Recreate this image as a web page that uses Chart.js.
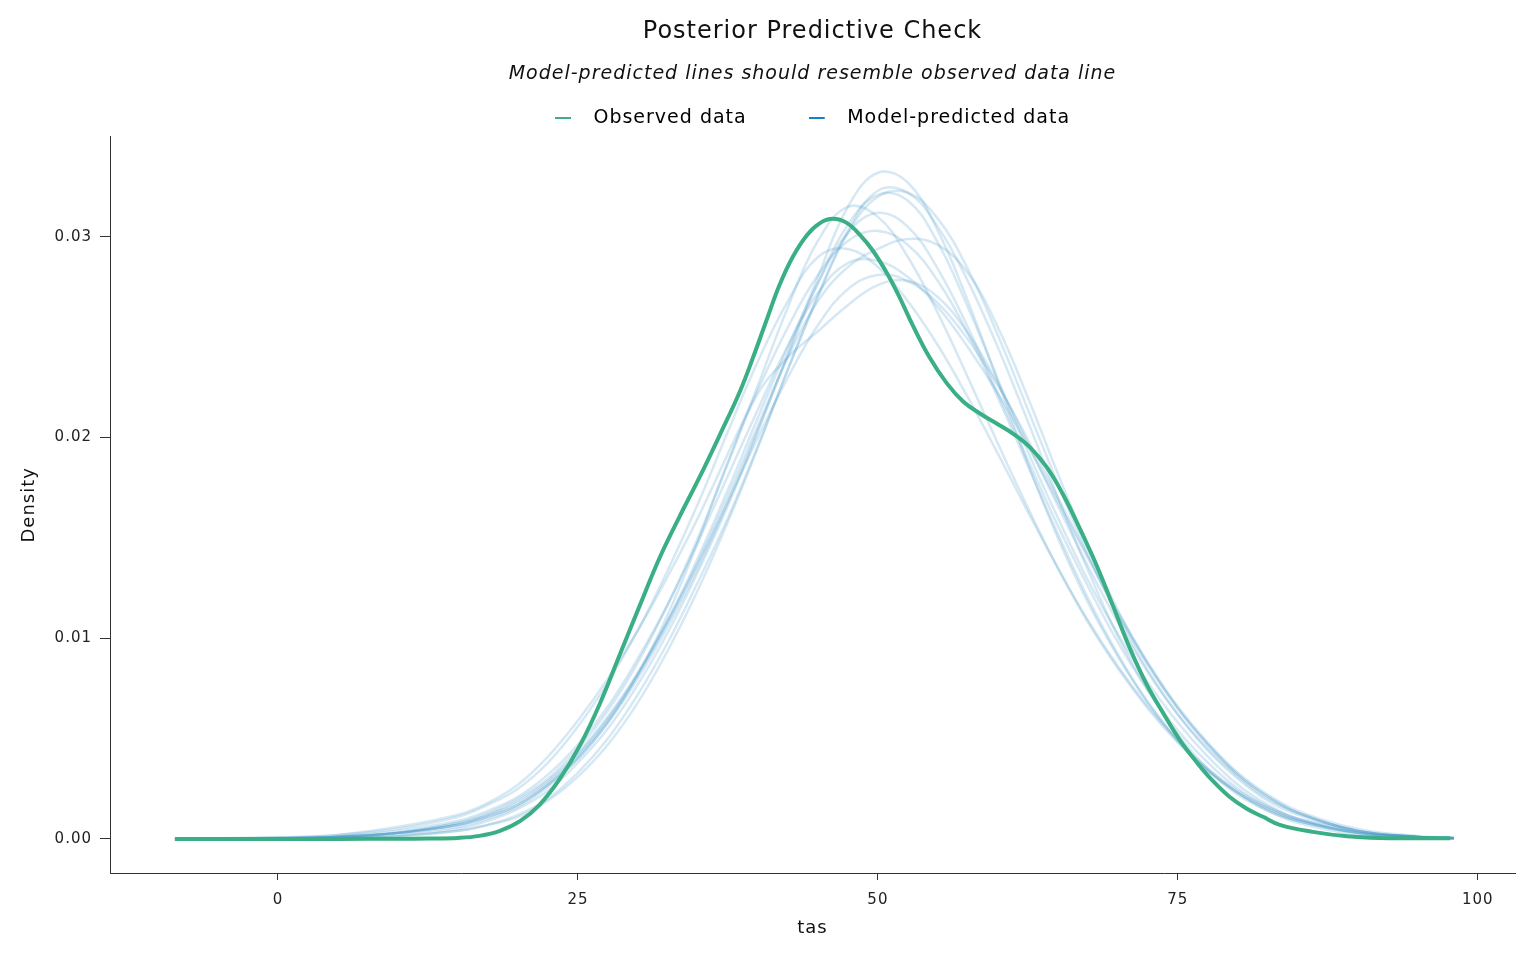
<!DOCTYPE html>
<html>
<head>
<meta charset="utf-8">
<script src="https://cdn.jsdelivr.net/npm/chart.js@4.4.0/dist/chart.umd.min.js"></script>
<style>
  html, body { margin: 0; padding: 0; background: #fff; }
  #wrap { width: 1536px; height: 960px; }
</style>
</head>
<body>
<div id="wrap"><canvas id="ppc" width="1536" height="960"></canvas></div>
<script>
// observed density
const obsX = [-8.6, 0, 5, 10, 12.5, 15, 16.8, 18.5, 20.2, 21.8, 23.5, 25.2, 26.8, 28.5, 30.2, 31.8, 33.5, 35.2, 36.8, 38.5, 39.6, 40.75, 41.8, 42.9, 44.1, 45.2, 46.25, 47.4, 48.5, 49.6, 50.75, 51.8, 52.9, 54.3, 55.75, 57.1, 58.5, 59.9, 61.25, 62.7, 64.1, 65.4, 66.8, 68.25, 69.6, 71, 72.4, 73.75, 75.2, 76.6, 77.9, 79.3, 80.75, 82.1, 83.5, 86.25, 89.1, 91.8, 97.7];
const obsY = [0, 0, 0, 0.00001, 0.00002, 0.00005, 0.00015, 0.0004, 0.0009, 0.0017, 0.0030, 0.0047, 0.0067, 0.0092, 0.0117, 0.0140, 0.0161, 0.0181, 0.0201, 0.0223, 0.0240, 0.0259, 0.0276, 0.0290, 0.0301, 0.0307, 0.0309, 0.0307, 0.0301, 0.0293, 0.0282, 0.0270, 0.0256, 0.0240, 0.0227, 0.0218, 0.0212, 0.0207, 0.0202, 0.0195, 0.0185, 0.0172, 0.0155, 0.0136, 0.0116, 0.0095, 0.0077, 0.0063, 0.0049, 0.0038, 0.0029, 0.0021, 0.0015, 0.0011, 0.0007, 0.00035, 0.00013, 0.00005, 0.00003];

// model-predicted densities, shared grid
const predX = [-8, 0, 5, 10, 15, 17.5, 20, 22.5, 25, 27.5, 30, 32.5, 35, 37.5, 40, 42.5, 45, 47.5, 50, 52.5, 55, 57.5, 60, 62.5, 65, 67.5, 70, 72.5, 75, 77.5, 80, 82.5, 85, 90, 95, 98];
const pred1  = [0, 0.00002, 0.00006, 0.0002, 0.0005, 0.0009, 0.0015, 0.0024, 0.0038, 0.0055, 0.0077, 0.0103, 0.0133, 0.0166, 0.0203, 0.0242, 0.0280, 0.0315, 0.0332, 0.0327, 0.0303, 0.0268, 0.0228, 0.0187, 0.0150, 0.0118, 0.0091, 0.0068, 0.0049, 0.0034, 0.0022, 0.0014, 0.0008, 0.0002, 0.00005, 0.00002];
const pred2  = [0, 0.00002, 0.00005, 0.00015, 0.0004, 0.0007, 0.0012, 0.0020, 0.0033, 0.0050, 0.0072, 0.0098, 0.0128, 0.0160, 0.0196, 0.0234, 0.0271, 0.0303, 0.0323, 0.0322, 0.0305, 0.0278, 0.0245, 0.0208, 0.0170, 0.0134, 0.0101, 0.0074, 0.0052, 0.0035, 0.0023, 0.0014, 0.0009, 0.0003, 0.0001, 0.00004];
const pred3  = [0, 0.00003, 0.0001, 0.0003, 0.0006, 0.0010, 0.0016, 0.0026, 0.0040, 0.0058, 0.0080, 0.0106, 0.0135, 0.0168, 0.0204, 0.0241, 0.0277, 0.0306, 0.0321, 0.0318, 0.0297, 0.0265, 0.0229, 0.0193, 0.0160, 0.0129, 0.0102, 0.0078, 0.0058, 0.0041, 0.0027, 0.0017, 0.0010, 0.0003, 0.0001, 0.00003];
const pred4  = [0, 0.00003, 0.0001, 0.0003, 0.0008, 0.0013, 0.0020, 0.0030, 0.0045, 0.0064, 0.0088, 0.0117, 0.0150, 0.0187, 0.0226, 0.0265, 0.0298, 0.0315, 0.0310, 0.0290, 0.0262, 0.0230, 0.0197, 0.0165, 0.0135, 0.0108, 0.0085, 0.0065, 0.0048, 0.0034, 0.0023, 0.0015, 0.0009, 0.0003, 0.0001, 0.00003];
const pred5  = [0, 0.00003, 0.0001, 0.0003, 0.0007, 0.0011, 0.0017, 0.0027, 0.0041, 0.0059, 0.0082, 0.0109, 0.0140, 0.0174, 0.0210, 0.0245, 0.0277, 0.0302, 0.0312, 0.0305, 0.0284, 0.0255, 0.0222, 0.0189, 0.0156, 0.0126, 0.0098, 0.0074, 0.0054, 0.0038, 0.0025, 0.0016, 0.0010, 0.0003, 0.0001, 0.00003];
const pred6  = [0, 0.00004, 0.0001, 0.0003, 0.0008, 0.0012, 0.0019, 0.0029, 0.0043, 0.0061, 0.0083, 0.0109, 0.0138, 0.0171, 0.0206, 0.0240, 0.0268, 0.0285, 0.0294, 0.0299, 0.0296, 0.0282, 0.0255, 0.0220, 0.0182, 0.0146, 0.0114, 0.0087, 0.0065, 0.0047, 0.0032, 0.0021, 0.0013, 0.0004, 0.0001, 0.00004];
const pred7  = [0, 0.00006, 0.0002, 0.0005, 0.0011, 0.0017, 0.0025, 0.0038, 0.0056, 0.0078, 0.0104, 0.0134, 0.0167, 0.0203, 0.0238, 0.0268, 0.0290, 0.0294, 0.0285, 0.0268, 0.0246, 0.0220, 0.0192, 0.0163, 0.0135, 0.0109, 0.0086, 0.0066, 0.0049, 0.0035, 0.0024, 0.0016, 0.0010, 0.0004, 0.0001, 0.00004];
const pred8  = [0, 0.00004, 0.00012, 0.0004, 0.0009, 0.0014, 0.0021, 0.0032, 0.0047, 0.0066, 0.0090, 0.0117, 0.0148, 0.0181, 0.0214, 0.0246, 0.0272, 0.0287, 0.0288, 0.0280, 0.0265, 0.0245, 0.0222, 0.0196, 0.0168, 0.0140, 0.0112, 0.0087, 0.0065, 0.0047, 0.0032, 0.0021, 0.0013, 0.0004, 0.0001, 0.00004];
const pred9  = [0, 0.00003, 0.0001, 0.0003, 0.0007, 0.0012, 0.0018, 0.0028, 0.0042, 0.0060, 0.0082, 0.0108, 0.0137, 0.0168, 0.0200, 0.0230, 0.0256, 0.0274, 0.0281, 0.0278, 0.0267, 0.0249, 0.0226, 0.0199, 0.0170, 0.0141, 0.0113, 0.0088, 0.0066, 0.0048, 0.0033, 0.0022, 0.0014, 0.0005, 0.00015, 0.00005];
const pred10 = [0, 0.00003, 0.0001, 0.0003, 0.0007, 0.0011, 0.0017, 0.0027, 0.0040, 0.0058, 0.0082, 0.0112, 0.0148, 0.0188, 0.0222, 0.0240, 0.0253, 0.0266, 0.0276, 0.0278, 0.0270, 0.0252, 0.0227, 0.0197, 0.0166, 0.0136, 0.0108, 0.0083, 0.0062, 0.0045, 0.0031, 0.0020, 0.0013, 0.0004, 0.0001, 0.00004];
const pred11 = [0, 0.00008, 0.0002, 0.0006, 0.0012, 0.0018, 0.0027, 0.0041, 0.0059, 0.0080, 0.0104, 0.0131, 0.0160, 0.0192, 0.0224, 0.0255, 0.0281, 0.0298, 0.0303, 0.0296, 0.0278, 0.0252, 0.0220, 0.0186, 0.0152, 0.0120, 0.0092, 0.0068, 0.0049, 0.0034, 0.0023, 0.0015, 0.0009, 0.0003, 0.0001, 0.00003];
const pred12 = [0, 0.00001, 0.00004, 0.00012, 0.0004, 0.0007, 0.0011, 0.0019, 0.0031, 0.0047, 0.0068, 0.0094, 0.0124, 0.0158, 0.0195, 0.0234, 0.0270, 0.0302, 0.0320, 0.0322, 0.0309, 0.0284, 0.0251, 0.0214, 0.0177, 0.0142, 0.0111, 0.0084, 0.0062, 0.0044, 0.0030, 0.0019, 0.0012, 0.0004, 0.0001, 0.00003];
const predSeries = [pred1, pred2, pred3, pred4, pred5, pred6, pred7, pred8, pred9, pred10, pred11, pred12];

const xTicks = [0, 25, 50, 75, 100];
const yTicks = [0, 0.01, 0.02, 0.03];

const FONT = "'DejaVu Sans', sans-serif";
const GREEN = '#3aae84';
const BLUE_LINE = 'rgba(70,150,200,0.22)';
const BLUE_KEY = '#1c7fc0';
const AXIS = '#333';

const pts = (xs, ys) => xs.map((x, i) => ({ x, y: ys[i] }));

// short legend key with a gap before its text
function keyImage(color) {
  const c = document.createElement('canvas');
  c.width = 29; c.height = 2;
  const g = c.getContext('2d');
  g.fillStyle = color;
  g.fillRect(0, 0, 16, 2);
  return c;
}

const datasets = predSeries.map((ys, i) => ({
  label: i === 0 ? 'Model-predicted data' : '',
  data: pts(predX, ys),
  borderColor: BLUE_LINE,
  borderWidth: 2.5,
  pointRadius: 0,
  tension: 0.4,
  order: 2,
}));
datasets.push({
  label: 'Observed data',
  data: pts(obsX, obsY),
  borderColor: GREEN,
  borderWidth: 4,
  pointRadius: 0,
  tension: 0.4,
  order: 1,
});

// wider lettering and a fixed legend height
const tweaks = {
  id: 'tweaks',
  beforeInit(chart) {
    const lg = chart.legend;
    if (!lg) return;
    const fit = lg.fit;
    lg.fit = function () { fit.call(this); this.height = 90; };
  },
  beforeLayout(chart) { chart.ctx.letterSpacing = '1px'; },
  beforeDraw(chart) { chart.ctx.letterSpacing = '1px'; },
};

new Chart(document.getElementById('ppc'), {
  type: 'line',
  data: { datasets },
  plugins: [tweaks],
  options: {
    responsive: false,
    animation: false,
    layout: { padding: { left: 0, right: 21, top: 0, bottom: 0 } },
    plugins: {
      title: {
        display: true,
        fullSize: false,
        text: 'Posterior Predictive Check',
        color: '#111',
        font: { family: FONT, size: 24, weight: 'normal' },
        padding: { top: 17, bottom: 0 },
      },
      subtitle: {
        display: true,
        fullSize: false,
        text: 'Model-predicted lines should resemble observed data line',
        color: '#111',
        font: { family: FONT, size: 19, style: 'italic' },
        padding: { top: 17, bottom: -39 },
      },
      legend: {
        display: true,
        fullSize: false,
        labels: {
          font: { family: FONT, size: 19 },
          color: '#222',
          usePointStyle: true,
          pointStyleWidth: 29,
          boxHeight: 1,
          padding: 62,
          generateLabels: () => [
            { text: 'Observed data', pointStyle: keyImage(GREEN), strokeStyle: GREEN, fillStyle: GREEN, lineWidth: 1, hidden: false, datasetIndex: predSeries.length },
            { text: 'Model-predicted data', pointStyle: keyImage(BLUE_KEY), strokeStyle: BLUE_KEY, fillStyle: BLUE_KEY, lineWidth: 1, hidden: false, datasetIndex: 0 },
          ],
        },
      },
      tooltip: { enabled: false },
    },
    scales: {
      x: {
        type: 'linear',
        min: -14,
        max: 103.1,
        afterBuildTicks: s => { s.ticks = xTicks.map(v => ({ value: v })); },
        afterFit: s => { s.height = 87; },
        ticks: { color: '#222', font: { family: FONT, size: 15 }, padding: 11, callback: v => String(v) },
        grid: { display: true, drawOnChartArea: false, drawTicks: true, tickLength: 7, color: AXIS },
        border: { display: true, color: AXIS, width: 1 },
        title: { display: true, text: 'tas', color: '#111', font: { family: FONT, size: 18 }, padding: { top: 4, bottom: 21 } },
      },
      y: {
        type: 'linear',
        min: -0.0017,
        max: 0.035,
        afterBuildTicks: s => { s.ticks = yTicks.map(v => ({ value: v })); },
        afterFit: s => { s.width = 110; },
        ticks: { color: '#222', font: { family: FONT, size: 15 }, padding: 8, callback: v => v.toFixed(2) },
        grid: { display: true, drawOnChartArea: false, drawTicks: true, tickLength: 10, color: AXIS },
        border: { display: true, color: AXIS, width: 1 },
        title: { display: true, text: 'Density', color: '#111', font: { family: FONT, size: 18 }, padding: { top: 19, bottom: 4 } },
      },
    },
  },
});
</script>
</body>
</html>
